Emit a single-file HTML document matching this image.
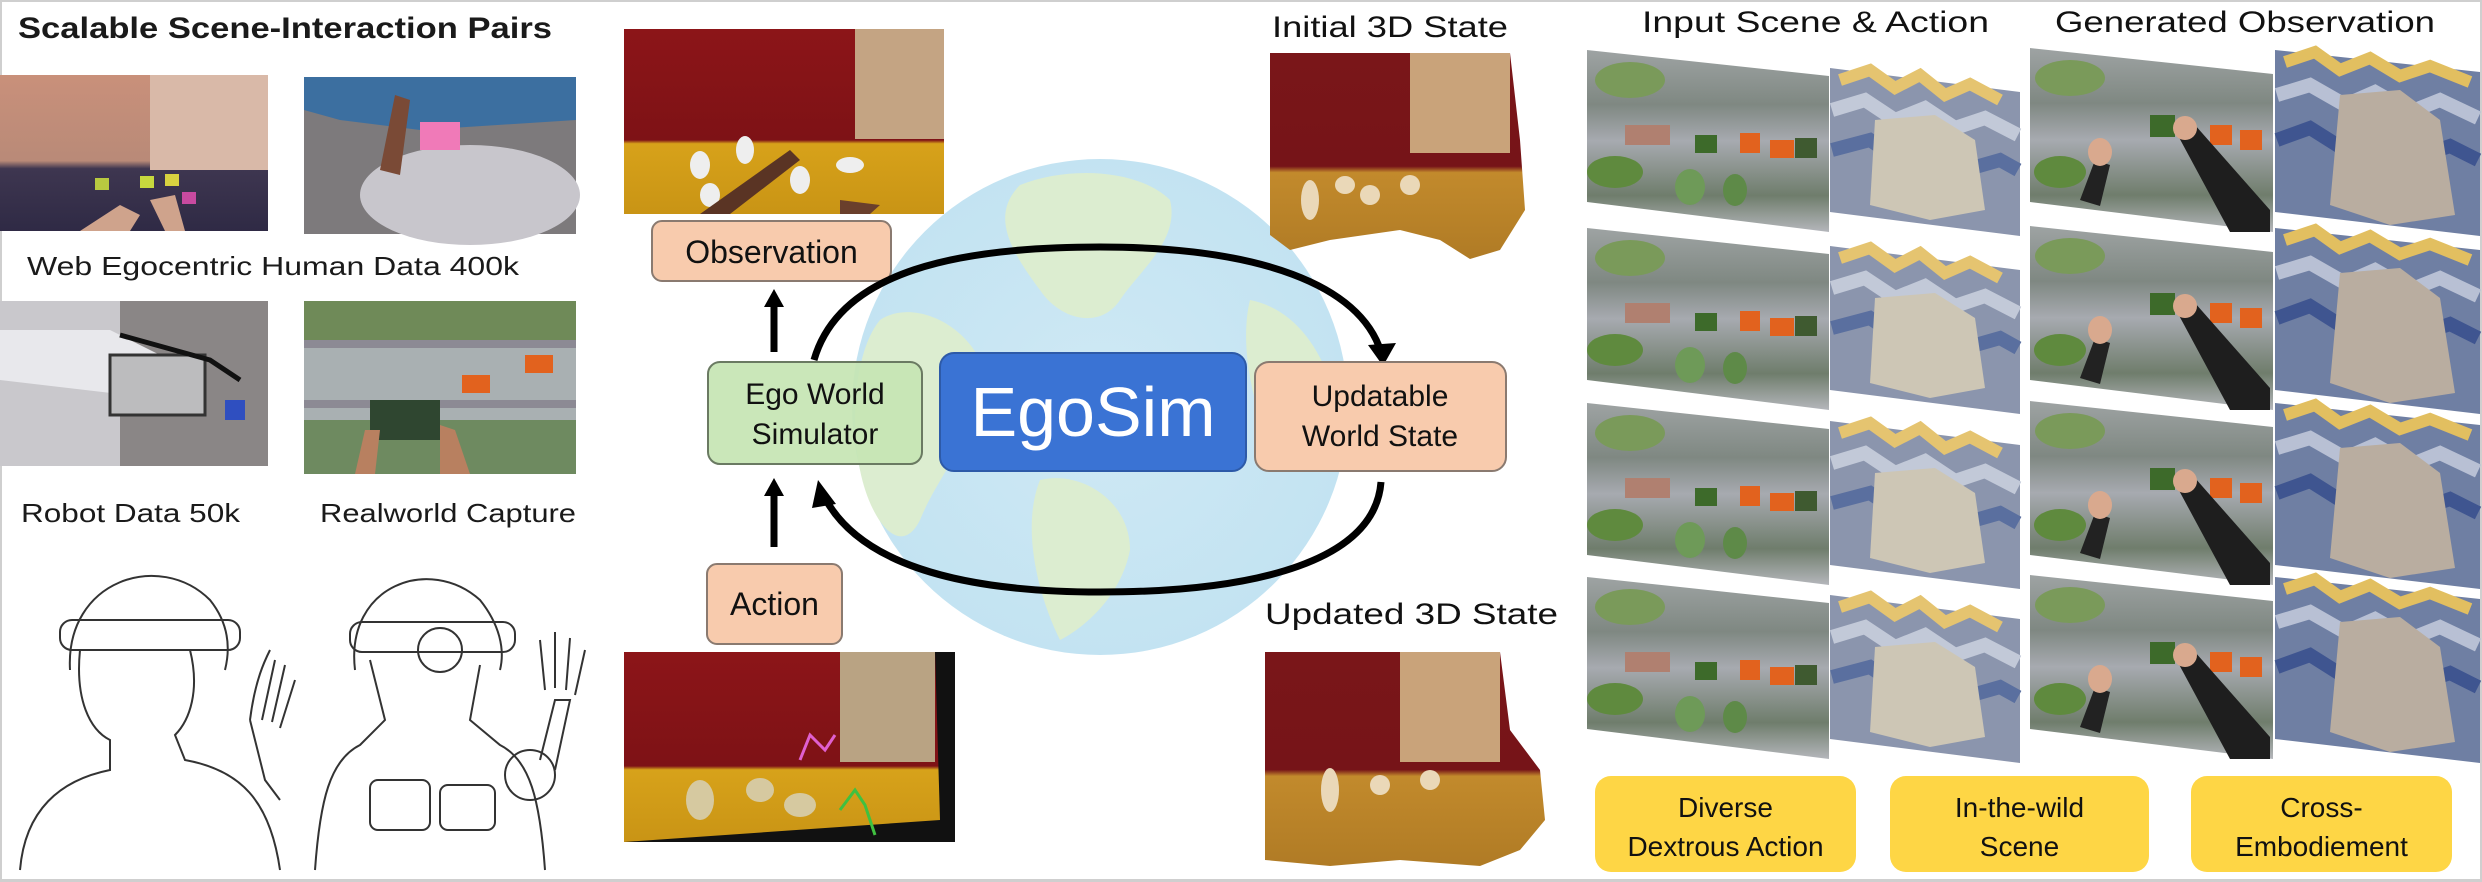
<!DOCTYPE html>
<html><head><meta charset="utf-8"><style>
html,body{margin:0;padding:0;background:#fff;}
svg{display:block;}
text{font-family:"Liberation Sans",Arial,sans-serif;}
</style></head><body>
<svg width="2482" height="882" viewBox="0 0 2482 882" xmlns="http://www.w3.org/2000/svg">
<defs>
  <linearGradient id="bed" x1="0" y1="0" x2="0" y2="1"><stop offset="0" stop-color="#c9907a"/><stop offset="0.55" stop-color="#b98a78"/><stop offset="0.6" stop-color="#3e3650"/><stop offset="1" stop-color="#2f2a45"/></linearGradient>
  <linearGradient id="shelf" x1="0" y1="0" x2="0" y2="1"><stop offset="0" stop-color="#9ea3a3"/><stop offset="0.3" stop-color="#7f8882"/><stop offset="0.5" stop-color="#a7aab0"/><stop offset="0.8" stop-color="#6f7d6c"/><stop offset="1" stop-color="#b4b6bb"/></linearGradient>
  <linearGradient id="room" x1="0" y1="0" x2="0" y2="1"><stop offset="0" stop-color="#8c1518"/><stop offset="0.6" stop-color="#7e1216"/><stop offset="0.62" stop-color="#d7a21a"/><stop offset="1" stop-color="#c99415"/></linearGradient>
  <linearGradient id="room3d" x1="0" y1="0" x2="0" y2="1"><stop offset="0" stop-color="#7a1619"/><stop offset="0.55" stop-color="#761418"/><stop offset="0.58" stop-color="#c28a2c"/><stop offset="1" stop-color="#b07b25"/></linearGradient>
  <radialGradient id="globe" cx="0.5" cy="0.5" r="0.5"><stop offset="0" stop-color="#cfe9f4"/><stop offset="1" stop-color="#c3e3f2"/></radialGradient>
  <g id="shelfimg">
    <polygon points="1587,50 1829,76 1829,232 1587,202" fill="url(#shelf)"/>
    <ellipse cx="1630" cy="80" rx="35" ry="18" fill="#7a9a5a"/>
    <rect x="1625" y="125" width="45" height="20" fill="#b08070"/>
    <rect x="1695" y="135" width="22" height="18" fill="#3d6a2a"/>
    <rect x="1740" y="133" width="20" height="20" fill="#e2621e"/>
    <rect x="1770" y="140" width="24" height="18" fill="#e2621e"/>
    <rect x="1795" y="138" width="22" height="20" fill="#3f5a30"/>
    <ellipse cx="1615" cy="172" rx="28" ry="16" fill="#5f8a3e"/>
    <ellipse cx="1690" cy="187" rx="15" ry="18" fill="#6e9a58"/>
    <ellipse cx="1735" cy="190" rx="12" ry="16" fill="#5e8a48"/>
  </g>
  <g id="zigimg">
    <polygon points="1830,68 2020,92 2020,236 1830,212" fill="#8b95ad"/>
    <polyline points="1840,80 1870,70 1895,88 1920,75 1945,95 1970,84 2000,100" fill="none" stroke="#e5c470" stroke-width="12"/>
    <polyline points="1832,110 1865,100 1895,120 1925,108 1955,128 1985,118 2018,135" fill="none" stroke="#c2c9d8" stroke-width="14"/>
    <polyline points="1832,150 1870,140 1900,160 1935,148 1965,170 2000,160 2018,170" fill="none" stroke="#5a6f9f" stroke-width="14"/>
    <polygon points="1875,120 1935,115 1975,140 1985,210 1930,220 1870,205" fill="#cdc6b5"/>
  </g>
  <g id="genshelf">
    <polygon points="2030,48 2273,74 2273,232 2030,202" fill="url(#shelf)"/>
    <ellipse cx="2070" cy="78" rx="35" ry="18" fill="#7a9a5a"/>
    <rect x="2150" y="115" width="25" height="22" fill="#3d6a2a"/>
    <rect x="2210" y="125" width="22" height="20" fill="#e2621e"/>
    <rect x="2240" y="130" width="22" height="20" fill="#e2621e"/>
    <ellipse cx="2060" cy="172" rx="26" ry="16" fill="#5f8a3e"/>
    <polygon points="2080,200 2095,160 2110,165 2100,206" fill="#222"/>
    <polygon points="2175,130 2195,125 2270,210 2270,232 2230,232" fill="#1e1e1e"/>
    <ellipse cx="2100" cy="152" rx="12" ry="14" fill="#d9a98e"/>
    <ellipse cx="2185" cy="128" rx="12" ry="12" fill="#d9a98e"/>
  </g>
  <g id="genzig">
    <polygon points="2275,50 2480,72 2480,236 2275,212" fill="#6f7fa3"/>
    <polyline points="2285,62 2315,52 2340,70 2370,58 2400,76 2430,66 2470,82" fill="none" stroke="#e2bf60" stroke-width="12"/>
    <polyline points="2277,95 2310,85 2345,105 2375,92 2410,112 2440,100 2478,118" fill="none" stroke="#b8c0d4" stroke-width="14"/>
    <polyline points="2277,140 2310,128 2345,150 2380,138 2415,158 2450,146 2478,160" fill="none" stroke="#3f5590" stroke-width="14"/>
    <polygon points="2340,95 2400,90 2440,120 2455,215 2390,225 2330,205" fill="#b9ada0"/>
  </g>
</defs>

<rect x="0" y="0" width="2482" height="882" fill="#fff"/>
<rect x="0.5" y="0.5" width="2481" height="880" fill="none" stroke="#cfcfcf" stroke-width="3"/>

<!-- LEFT PANEL -->
<text x="18" y="38" font-size="30" font-weight="bold" fill="#1a1a1a" textLength="534" lengthAdjust="spacingAndGlyphs">Scalable Scene-Interaction Pairs</text>
<rect x="0" y="75" width="268" height="156" fill="url(#bed)"/>
<rect x="150" y="75" width="118" height="95" fill="#d9b9a8"/>
<rect x="95" y="178" width="14" height="12" fill="#b8c940"/><rect x="140" y="176" width="14" height="12" fill="#c7d83e"/><rect x="165" y="174" width="14" height="12" fill="#d8d240"/><rect x="182" y="192" width="14" height="12" fill="#c84aa0"/>
<path d="M80,231 L120,205 L140,215 L130,231Z" fill="#cfa38c"/><path d="M150,200 L175,195 L185,231 L165,231Z" fill="#cfa38c"/>
<rect x="304" y="77" width="272" height="157" fill="#7d7a7c"/>
<path d="M304,77 L576,77 L576,120 L420,130 L340,120 L304,110Z" fill="#3c6fa0"/>
<ellipse cx="470" cy="195" rx="110" ry="50" fill="#c8c6cc"/>
<rect x="420" y="122" width="40" height="28" fill="#f07ab8"/>
<path d="M380,170 L395,95 L410,100 L400,175Z" fill="#7a4a36"/>
<text x="27" y="275" font-size="26" fill="#1a1a1a" textLength="492" lengthAdjust="spacingAndGlyphs">Web Egocentric Human Data 400k</text>
<rect x="0" y="301" width="268" height="165" fill="#c9c8cc"/>
<rect x="120" y="301" width="148" height="165" fill="#8a8686"/>
<path d="M0,330 L110,330 L170,360 L170,400 L0,380Z" fill="#e8e8ec"/>
<rect x="110" y="355" width="95" height="60" fill="#bcbcbe" stroke="#333" stroke-width="3"/>
<path d="M120,335 L210,360 L240,380" stroke="#111" stroke-width="5" fill="none"/>
<rect x="225" y="400" width="20" height="20" fill="#2f4fc0"/>
<rect x="304" y="301" width="272" height="173" fill="#a9b0b2"/>
<rect x="304" y="301" width="272" height="40" fill="#6f8a58"/>
<rect x="304" y="340" width="272" height="8" fill="#8c8a94"/>
<rect x="304" y="400" width="272" height="8" fill="#8c8a94"/>
<rect x="304" y="420" width="272" height="54" fill="#6e8a60"/>
<rect x="462" y="375" width="28" height="18" fill="#e2621e"/><rect x="525" y="355" width="28" height="18" fill="#e2621e"/>
<rect x="370" y="400" width="70" height="40" fill="#2f4630"/>
<path d="M355,474 L365,430 L380,430 L375,474Z" fill="#b88060"/><path d="M440,474 L440,425 L455,430 L470,474Z" fill="#b88060"/>
<text x="21" y="522" font-size="26" fill="#1a1a1a" textLength="219" lengthAdjust="spacingAndGlyphs">Robot Data 50k</text>
<text x="320" y="522" font-size="26" fill="#1a1a1a" textLength="256" lengthAdjust="spacingAndGlyphs">Realworld Capture</text>
<!-- sketches -->
<g fill="none" stroke="#333" stroke-width="2">
  <path d="M70,670 C65,580 160,550 210,600 C230,625 230,650 225,670"/>
  <rect x="60" y="620" width="180" height="30" rx="12"/>
  <path d="M80,650 C75,700 90,730 110,740 L110,770 C60,780 25,810 20,870"/>
  <path d="M190,650 C200,690 190,720 175,735 L185,760 C240,770 270,800 280,870"/>
  <path d="M250,720 C255,680 265,660 270,650 M262,720 L275,660 M272,722 L285,665 M280,728 L295,680 M250,720 L265,780 L280,800"/>
  <path d="M355,670 C345,585 430,555 480,600 C500,625 505,650 500,670"/>
  <rect x="350" y="622" width="165" height="30" rx="12"/>
  <circle cx="440" cy="650" r="22"/>
  <path d="M370,660 L385,720 L360,745 C330,760 320,800 315,870"/>
  <path d="M480,665 L470,720 L500,745 C530,760 540,800 545,870"/>
  <rect x="370" y="780" width="60" height="50" rx="8"/><rect x="440" y="785" width="55" height="45" rx="8"/>
  <circle cx="530" cy="775" r="25"/>
  <path d="M540,760 L555,700 L570,700 L555,770 M545,690 L540,640 M555,688 L555,632 M566,690 L570,638 M575,695 L585,650"/>
</g>

<!-- MIDDLE -->
<circle cx="1100" cy="407" r="248" fill="url(#globe)"/>
<path d="M1020,185 C1070,165 1140,170 1170,200 C1180,240 1140,270 1120,300 C1100,330 1060,320 1040,290 C1010,250 990,215 1020,185Z" fill="#dcedd0"/>
<path d="M880,320 C910,300 960,320 980,360 C990,420 940,470 920,520 C900,560 870,520 860,470 C850,420 855,350 880,320Z" fill="#dcedd0"/>
<path d="M1040,480 C1080,470 1130,500 1130,550 C1120,600 1080,630 1060,640 C1040,600 1020,530 1040,480Z" fill="#dcedd0"/>
<path d="M1250,300 C1300,310 1330,360 1340,420 C1320,470 1290,470 1270,440 C1250,400 1240,340 1250,300Z" fill="#dcedd0"/>

<rect x="624" y="29" width="320" height="185" fill="url(#room)"/>
<rect x="855" y="29" width="89" height="110" fill="#c4a483"/>
<ellipse cx="700" cy="165" rx="10" ry="14" fill="#eee"/><ellipse cx="745" cy="150" rx="9" ry="14" fill="#eee"/><ellipse cx="800" cy="180" rx="10" ry="14" fill="#eee"/><ellipse cx="850" cy="165" rx="14" ry="8" fill="#eee"/><ellipse cx="710" cy="195" rx="10" ry="12" fill="#eee"/>
<path d="M700,214 L790,150 L800,160 L730,214Z" fill="#5a3424"/>
<path d="M840,214 L840,200 L880,205 L870,214Z" fill="#6a3f2c"/>

<rect x="652" y="221" width="239" height="60" rx="10" fill="#f8cbad" stroke="#8a7a70" stroke-width="2"/>
<text x="771.5" y="263" font-size="32" text-anchor="middle" fill="#111">Observation</text>

<!-- ellipse arrows -->
<path d="M814,360 C840,270 960,247 1100,247 C1260,247 1360,285 1381,352" fill="none" stroke="#000" stroke-width="7"/>
<polygon points="1368,345 1396,343 1383,366" fill="#000"/>
<path d="M1381,482 C1375,560 1260,592 1100,592 C950,592 860,560 826,500" fill="none" stroke="#000" stroke-width="7"/>
<polygon points="818,480 836,504 812,508" fill="#000"/>

<!-- vertical arrows -->
<line x1="774" y1="352" x2="774" y2="305" stroke="#000" stroke-width="7"/>
<polygon points="764,307 784,307 774,289" fill="#000"/>
<line x1="774" y1="547" x2="774" y2="494" stroke="#000" stroke-width="7"/>
<polygon points="764,496 784,496 774,478" fill="#000"/>

<rect x="708" y="362" width="214" height="102" rx="12" fill="#c6e5b3" fill-opacity="0.92" stroke="#6a7a62" stroke-width="2"/>
<text x="815" y="404" font-size="30" text-anchor="middle" fill="#111">Ego World</text>
<text x="815" y="444" font-size="30" text-anchor="middle" fill="#111">Simulator</text>

<rect x="940" y="353" width="306" height="118" rx="14" fill="#3a73d4" stroke="#2d5aa8" stroke-width="2"/>
<text x="1093" y="436" font-size="70" text-anchor="middle" fill="#fff">EgoSim</text>

<rect x="1255" y="362" width="251" height="109" rx="14" fill="#f8cbad" stroke="#8a7a70" stroke-width="2"/>
<text x="1380" y="406" font-size="30" text-anchor="middle" fill="#111">Updatable</text>
<text x="1380" y="446" font-size="30" text-anchor="middle" fill="#111">World State</text>

<rect x="707" y="564" width="135" height="80" rx="10" fill="#f8cbad" stroke="#8a7a70" stroke-width="2"/>
<text x="774.5" y="615" font-size="32" text-anchor="middle" fill="#111">Action</text>

<polygon points="624,652 955,652 955,842 624,842" fill="#111"/>
<polygon points="624,652 935,652 940,820 624,842" fill="url(#room)"/>
<rect x="840" y="652" width="95" height="110" fill="#b9a383"/>
<ellipse cx="700" cy="800" rx="14" ry="20" fill="#d6c9a0"/><ellipse cx="760" cy="790" rx="14" ry="12" fill="#d6c9a0"/><ellipse cx="800" cy="805" rx="16" ry="12" fill="#d6c9a0"/>
<path d="M800,760 L810,735 L825,750 L835,735" stroke="#e060d0" stroke-width="3" fill="none"/>
<path d="M840,810 L855,790 L865,805 L875,835" stroke="#40c040" stroke-width="3" fill="none"/>

<!-- 3D states -->
<text x="1272" y="37" font-size="30" fill="#111" textLength="236" lengthAdjust="spacingAndGlyphs">Initial 3D State</text>
<path d="M1270,53 L1510,53 L1520,140 L1525,210 L1500,250 L1470,259 L1440,240 L1400,230 L1330,240 L1290,250 L1270,235Z" fill="url(#room3d)"/>
<rect x="1410" y="53" width="100" height="100" fill="#c9a37a"/>
<ellipse cx="1310" cy="200" rx="9" ry="20" fill="#ead8b8"/><ellipse cx="1345" cy="185" rx="10" ry="9" fill="#ead8b8"/><ellipse cx="1370" cy="195" rx="10" ry="10" fill="#ead8b8"/><ellipse cx="1410" cy="185" rx="10" ry="10" fill="#ead8b8"/>
<text x="1265" y="624" font-size="30" fill="#111" textLength="293" lengthAdjust="spacingAndGlyphs">Updated 3D State</text>
<path d="M1265,652 L1500,652 L1510,730 L1540,770 L1545,820 L1520,850 L1480,866 L1400,860 L1330,866 L1265,860Z" fill="url(#room3d)"/>
<rect x="1400" y="652" width="100" height="110" fill="#c9a37a"/>
<ellipse cx="1330" cy="790" rx="9" ry="22" fill="#ead8b8"/><ellipse cx="1380" cy="785" rx="10" ry="10" fill="#ead8b8"/><ellipse cx="1430" cy="780" rx="10" ry="10" fill="#ead8b8"/>

<!-- RIGHT GRID -->
<text x="1642" y="32" font-size="30" fill="#111" textLength="347" lengthAdjust="spacingAndGlyphs">Input Scene &amp; Action</text>
<text x="2055" y="32" font-size="30" fill="#111" textLength="380" lengthAdjust="spacingAndGlyphs">Generated Observation</text>
<g><use href="#shelfimg"/><use href="#zigimg"/><use href="#genshelf"/><use href="#genzig"/></g>
<g transform="translate(0,178)"><use href="#shelfimg"/><use href="#zigimg"/><use href="#genshelf"/><use href="#genzig"/></g>
<g transform="translate(0,353)"><use href="#shelfimg"/><use href="#zigimg"/><use href="#genshelf"/><use href="#genzig"/></g>
<g transform="translate(0,527)"><use href="#shelfimg"/><use href="#zigimg"/><use href="#genshelf"/><use href="#genzig"/></g>

<rect x="1595" y="776" width="261" height="96" rx="16" fill="#fed645"/>
<text x="1725.5" y="817" font-size="28" text-anchor="middle" fill="#111">Diverse</text>
<text x="1725.5" y="856" font-size="28" text-anchor="middle" fill="#111">Dextrous Action</text>
<rect x="1890" y="776" width="259" height="96" rx="16" fill="#fed645"/>
<text x="2019.5" y="817" font-size="28" text-anchor="middle" fill="#111">In-the-wild</text>
<text x="2019.5" y="856" font-size="28" text-anchor="middle" fill="#111">Scene</text>
<rect x="2191" y="776" width="261" height="96" rx="16" fill="#fed645"/>
<text x="2321.5" y="817" font-size="28" text-anchor="middle" fill="#111">Cross-</text>
<text x="2321.5" y="856" font-size="28" text-anchor="middle" fill="#111">Embodiement</text>
</svg>
</body></html>
